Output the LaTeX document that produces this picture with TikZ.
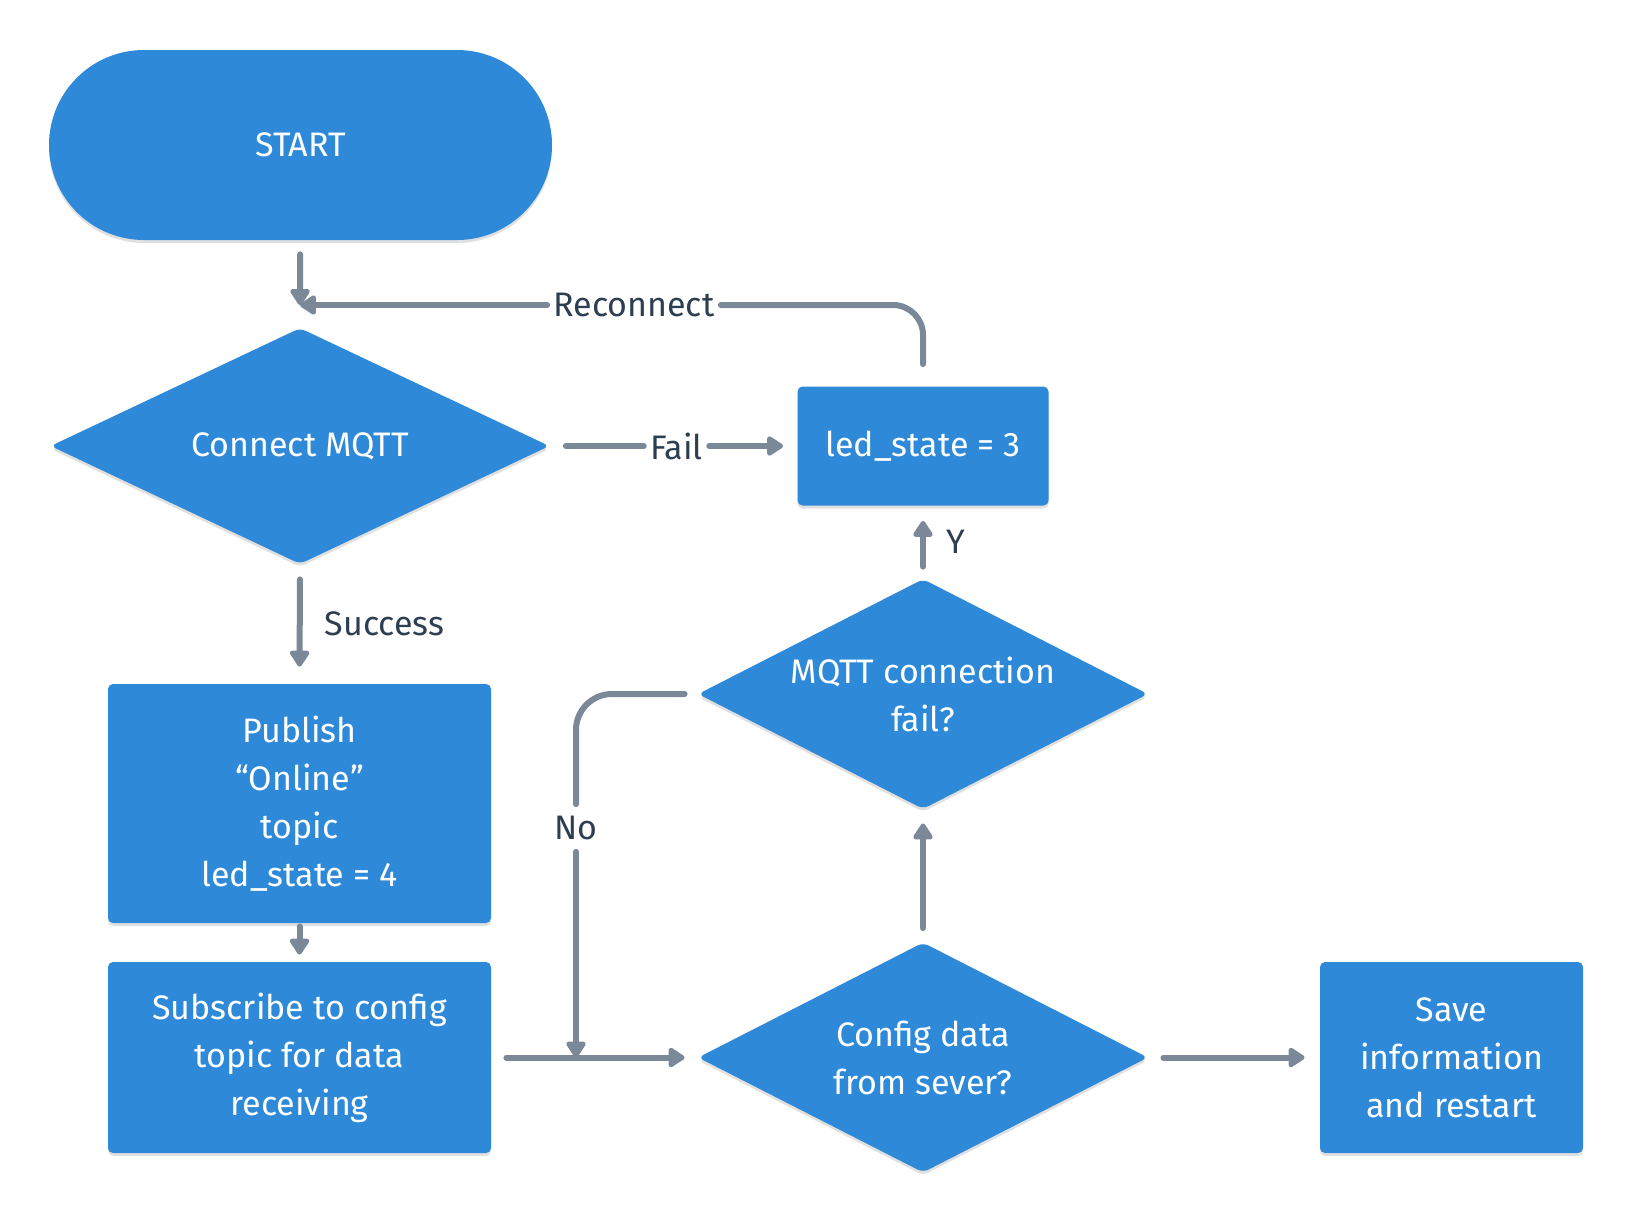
\documentclass[tikz,border=0pt]{standalone}
\usepackage{fontspec}
\setmainfont{Fira Sans}
\usetikzlibrary{shapes.geometric,shapes.misc,arrows.meta,shadows}
\definecolor{boxblue}{HTML}{2E89D8}
\definecolor{linegrey}{HTML}{7A8898}
\definecolor{labeltext}{HTML}{2C3E50}
\begin{document}
\begin{tikzpicture}[x=0.5pt,y=-0.5pt,
  shapebase/.style={fill=boxblue, text=white, font=\fontsize{17}{24}\selectfont, align=center, inner sep=0pt,
    drop shadow={shadow xshift=0pt, shadow yshift=-1.5pt, opacity=0.12, fill=black}},
  terminal/.style={shapebase, rounded rectangle, minimum width=251.5pt, minimum height=95pt},
  procbox/.style={shapebase, rectangle, rounded corners=2.5pt},
  decision/.style={shapebase, diamond, aspect=2, rounded corners=3pt, minimum width=225pt, minimum height=115pt},
  conn/.style={draw=linegrey, line width=3pt, line cap=round, line join=round},
  arr/.style={conn, -{Triangle[length=9pt,width=11pt,round]}},
  lbl/.style={text=labeltext, font=\fontsize{17}{24}\selectfont, inner xsep=3pt, inner ysep=2pt},
]
\useasboundingbox (0,0) rectangle (1632,1222);

% nodes
\node[terminal] (start) at (300.5,145) {START};
\node[decision, minimum width=249.5pt, minimum height=118pt] (connect) at (300,446) {Connect MQTT};
\node[procbox, minimum width=125.5pt, minimum height=59.5pt] (led) at (923,446) {led\_state = 3};
\node[procbox, minimum width=191.5pt, minimum height=119.5pt] (publish) at (299.5,803.5) {Publish\\“Online”\\topic\\led\_state = 4};
\node[procbox, minimum width=191.5pt, minimum height=95.5pt] (subscribe) at (299.5,1057.5) {Subscribe to config\\topic for data\\receiving};
\node[decision] (mqtt) at (923,694) {MQTT connection\\fail?};
\node[decision] (config) at (923,1057.5) {Config data\\from sever?};
\node[procbox, minimum width=131.5pt, minimum height=95.5pt] (save) at (1451.5,1057.5) {Save\\information\\and restart};

% START -> Connect with Reconnect join
\coordinate (join) at (300,305);
\draw[arr, shorten <=7pt] (start) -- (join);
\node[lbl] (rec) at (634,305) {Reconnect};
\draw[conn, rounded corners=15pt, shorten <=11pt] (led.north) |- (rec.east);
\draw[arr] (rec.west) -- (join);

% Fail
\node[lbl] (fail) at (676.5,446) {Fail};
\draw[conn, shorten <=8pt] (connect.east) -- (fail.west);
\draw[arr, shorten >=7pt] (fail.east) -- (fail.east -| led.west);

% Success
\draw[arr, shorten <=7.5pt, shorten >=8.5pt] (connect.south) -- node[lbl, right=8pt]{Success} (publish.north);

% Publish -> Subscribe
\draw[arr, shorten <=1.5pt, shorten >=3.5pt] (publish) -- (subscribe);

% Subscribe -> Config
\draw[arr, shorten <=7.5pt, shorten >=6.5pt] (subscribe.east) -- (config.west);

% No branch
\node[lbl, inner ysep=5.75pt] (no) at (576,828) {No};
\coordinate (nojoin) at (576,1057.5);
\draw[conn, rounded corners=18pt, shorten <=6.5pt] (mqtt.west) -| (no.north);
\draw[arr] (no.south) -- (nojoin);

% Config -> MQTT
\draw[arr, shorten <=7pt, shorten >=7pt] (config) -- (mqtt);

% Y
\draw[arr, shorten <=6pt, shorten >=7.5pt] (mqtt.north) -- node[lbl, right=7pt]{Y} (led.south);

% Config -> Save
\draw[arr, shorten <=7.5pt, shorten >=7.5pt] (config.east) -- (save.west);
\end{tikzpicture}
\end{document}
